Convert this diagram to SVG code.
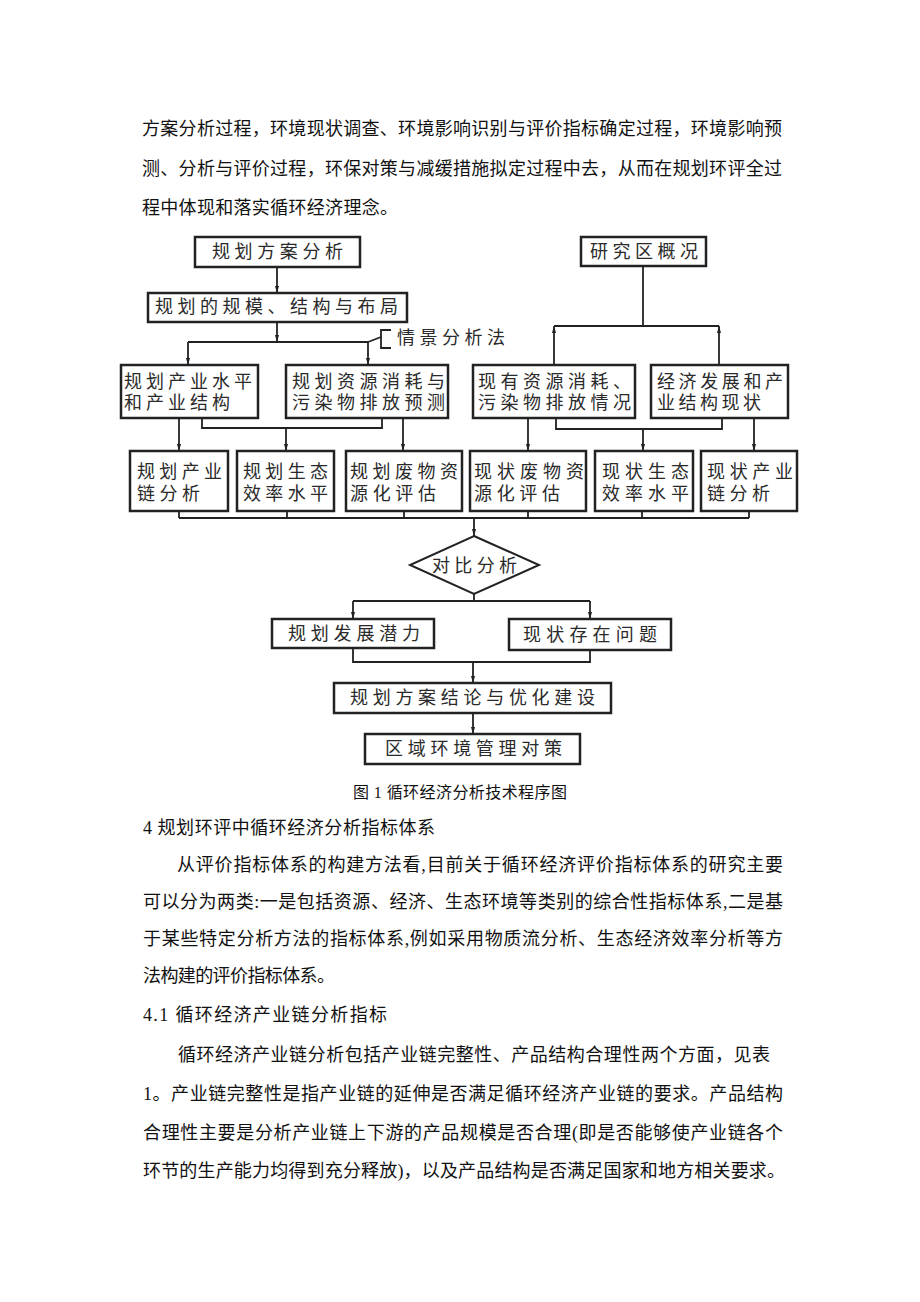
<svg xmlns="http://www.w3.org/2000/svg" width="920" height="1302" viewBox="0 0 920 1302">
<style>
.box{fill:#fff;stroke:#222;stroke-width:2.5}
.c{fill:none;stroke:#222;stroke-width:1.8}
.t{font-family:"Liberation Serif","Noto Sans CJK SC",sans-serif;font-size:18px;fill:#2a2a2a;dominant-baseline:central}
.b{font-family:"Liberation Serif","Noto Sans CJK SC",serif;font-size:18px;fill:#111;dominant-baseline:central}
.s{font-size:16px}
</style>
<defs>
<marker id="ah" markerUnits="userSpaceOnUse" markerWidth="7" markerHeight="12" viewBox="0 0 12 7" refX="12" refY="3.5" orient="auto">
<path d="M0,0 L12,3.5 L0,7 z" fill="#222"/>
</marker>
</defs>
<rect width="920" height="1302" fill="#fff"/>

<g id="body-top">
<text class="b" x="142" y="129" textLength="640" lengthAdjust="spacing">方案分析过程，环境现状调查、环境影响识别与评价指标确定过程，环境影响预</text>
<text class="b" x="142" y="169" textLength="640" lengthAdjust="spacing">测、分析与评价过程，环保对策与减缓措施拟定过程中去，从而在规划环评全过</text>
<text class="b" x="142" y="208" textLength="256" lengthAdjust="spacing">程中体现和落实循环经济理念。</text>
</g>

<g id="connectors">
<line class="c" x1="277" y1="267" x2="277" y2="293" marker-end="url(#ah)"/>
<line class="c" x1="277" y1="322" x2="277" y2="342" marker-end="url(#ah)"/>
<line class="c" x1="188" y1="342" x2="368" y2="342"/>
<line class="c" x1="188" y1="342" x2="188" y2="365" marker-end="url(#ah)"/>
<line class="c" x1="368" y1="342" x2="368" y2="365" marker-end="url(#ah)"/>
<polyline class="c" points="368,342 381,337"/>
<polyline class="c" points="391,330 381,330 381,348 391,348"/>
<line class="c" x1="643" y1="266" x2="643" y2="326"/>
<line class="c" x1="554" y1="326" x2="719" y2="326"/>
<line class="c" x1="554" y1="365" x2="554" y2="326" marker-end="url(#ah)"/>
<line class="c" x1="719" y1="365" x2="719" y2="326" marker-end="url(#ah)"/>
<line class="c" x1="179" y1="418" x2="179" y2="451" marker-end="url(#ah)"/>
<polyline class="c" points="202,418 202,428 382,428 382,418"/>
<line class="c" x1="286" y1="428" x2="286" y2="451" marker-end="url(#ah)"/>
<line class="c" x1="403" y1="418" x2="403" y2="451" marker-end="url(#ah)"/>
<line class="c" x1="528" y1="418" x2="528" y2="451" marker-end="url(#ah)"/>
<polyline class="c" points="556,418 556,429 722,429 722,418"/>
<line class="c" x1="643" y1="429" x2="643" y2="451" marker-end="url(#ah)"/>
<line class="c" x1="754" y1="418" x2="754" y2="451" marker-end="url(#ah)"/>
<line class="c" x1="179" y1="511" x2="179" y2="518"/>
<line class="c" x1="287" y1="511" x2="287" y2="518"/>
<line class="c" x1="404" y1="511" x2="404" y2="518"/>
<line class="c" x1="528" y1="511" x2="528" y2="518"/>
<line class="c" x1="642" y1="511" x2="642" y2="518"/>
<line class="c" x1="749" y1="511" x2="749" y2="518"/>
<line class="c" x1="179" y1="518" x2="749" y2="518"/>
<line class="c" x1="474" y1="518" x2="474" y2="536" marker-end="url(#ah)"/>
<line class="c" x1="474" y1="594" x2="474" y2="601"/>
<line class="c" x1="353" y1="601" x2="590" y2="601"/>
<line class="c" x1="353" y1="601" x2="353" y2="619" marker-end="url(#ah)"/>
<line class="c" x1="590" y1="601" x2="590" y2="619" marker-end="url(#ah)"/>
<polyline class="c" points="353,648 353,662 590,662 590,650"/>
<line class="c" x1="473" y1="662" x2="473" y2="683" marker-end="url(#ah)"/>
<line class="c" x1="473" y1="713" x2="473" y2="734" marker-end="url(#ah)"/>
</g>

<g id="n-fangan"><rect class="box" x="195" y="237" width="165" height="30"/><text class="t" x="212" y="252" textLength="131" lengthAdjust="spacing">规划方案分析</text></g>
<g id="n-guimo"><rect class="box" x="148" y="293" width="259" height="29"/><text class="t" x="155" y="307" textLength="243" lengthAdjust="spacing">规划的规模、结构与布局</text></g>
<g id="n-qingjing"><text class="t" x="397" y="338" textLength="108" lengthAdjust="spacing">情景分析法</text></g>
<g id="n-yanjiu"><rect class="box" x="581" y="237" width="125" height="29"/><text class="t" x="590" y="252" textLength="108" lengthAdjust="spacing">研究区概况</text></g>

<g id="n-chanye"><rect class="box" x="121" y="365" width="137" height="53"/>
<text class="t" x="124" y="382" textLength="128" lengthAdjust="spacing">规划产业水平</text>
<text class="t" x="124" y="403" textLength="106" lengthAdjust="spacing">和产业结构</text></g>
<g id="n-ziyuan"><rect class="box" x="286" y="365" width="162" height="53"/>
<text class="t" x="292" y="382" textLength="153" lengthAdjust="spacing">规划资源消耗与</text>
<text class="t" x="292" y="403" textLength="153" lengthAdjust="spacing">污染物排放预测</text></g>
<g id="n-xianyou"><rect class="box" x="473" y="365" width="162" height="53"/>
<text class="t" x="478" y="382" textLength="153" lengthAdjust="spacing">现有资源消耗、</text>
<text class="t" x="478" y="403" textLength="153" lengthAdjust="spacing">污染物排放情况</text></g>
<g id="n-jingji"><rect class="box" x="651" y="365" width="137" height="53"/>
<text class="t" x="657" y="382" textLength="126" lengthAdjust="spacing">经济发展和产</text>
<text class="t" x="657" y="403" textLength="104" lengthAdjust="spacing">业结构现状</text></g>

<g id="n-gh-chanyelian"><rect class="box" x="130" y="451" width="98" height="60"/>
<text class="t" x="137" y="472" textLength="85" lengthAdjust="spacing">规划产业</text>
<text class="t" x="137" y="494" textLength="63" lengthAdjust="spacing">链分析</text></g>
<g id="n-gh-shengtai"><rect class="box" x="237" y="451" width="97" height="60"/>
<text class="t" x="243" y="472" textLength="85" lengthAdjust="spacing">规划生态</text>
<text class="t" x="243" y="494" textLength="85" lengthAdjust="spacing">效率水平</text></g>
<g id="n-gh-feiwu"><rect class="box" x="346" y="451" width="116" height="60"/>
<text class="t" x="350" y="472" textLength="108" lengthAdjust="spacing">规划废物资</text>
<text class="t" x="350" y="494" textLength="86" lengthAdjust="spacing">源化评估</text></g>
<g id="n-xz-feiwu"><rect class="box" x="470" y="451" width="116" height="60"/>
<text class="t" x="474" y="472" textLength="110" lengthAdjust="spacing">现状废物资</text>
<text class="t" x="474" y="494" textLength="86" lengthAdjust="spacing">源化评估</text></g>
<g id="n-xz-shengtai"><rect class="box" x="595" y="451" width="98" height="60"/>
<text class="t" x="602" y="472" textLength="87" lengthAdjust="spacing">现状生态</text>
<text class="t" x="602" y="494" textLength="87" lengthAdjust="spacing">效率水平</text></g>
<g id="n-xz-chanyelian"><rect class="box" x="701" y="451" width="96" height="60"/>
<text class="t" x="707" y="472" textLength="86" lengthAdjust="spacing">现状产业</text>
<text class="t" x="707" y="494" textLength="63" lengthAdjust="spacing">链分析</text></g>

<g id="n-duibi"><polygon class="box" points="474,536 539,565 474,594 410,565" style="stroke-width:2"/>
<text class="t" x="432" y="566" textLength="85" lengthAdjust="spacing">对比分析</text></g>
<g id="n-qianli"><rect class="box" x="272" y="619" width="162" height="29"/><text class="t" x="288" y="634" textLength="132" lengthAdjust="spacing">规划发展潜力</text></g>
<g id="n-wenti"><rect class="box" x="509" y="619" width="162" height="31"/><text class="t" x="523" y="635" textLength="134" lengthAdjust="spacing">现状存在问题</text></g>
<g id="n-jielun"><rect class="box" x="334" y="683" width="277" height="30"/><text class="t" x="350" y="698" textLength="245" lengthAdjust="spacing">规划方案结论与优化建设</text></g>
<g id="n-duice"><rect class="box" x="365" y="734" width="215" height="30"/><text class="t" x="385" y="749" textLength="177" lengthAdjust="spacing">区域环境管理对策</text></g>

<g id="body-bottom">
<text class="b s" x="353" y="792" textLength="214" lengthAdjust="spacing">图 1  循环经济分析技术程序图</text>
<text class="b" x="143" y="828" textLength="292" lengthAdjust="spacing">4  规划环评中循环经济分析指标体系</text>
<text class="b" x="177" y="865" textLength="606" lengthAdjust="spacing">从评价指标体系的构建方法看,目前关于循环经济评价指标体系的研究主要</text>
<text class="b" x="143" y="902" textLength="640" lengthAdjust="spacing">可以分为两类:一是包括资源、经济、生态环境等类别的综合性指标体系,二是基</text>
<text class="b" x="143" y="939" textLength="640" lengthAdjust="spacing">于某些特定分析方法的指标体系,例如采用物质流分析、生态经济效率分析等方</text>
<text class="b" x="143" y="976" textLength="192" lengthAdjust="spacing">法构建的评价指标体系。</text>
<text class="b" x="143" y="1015" textLength="244" lengthAdjust="spacing">4.1  循环经济产业链分析指标</text>
<text class="b" x="178" y="1055" textLength="592" lengthAdjust="spacing">循环经济产业链分析包括产业链完整性、产品结构合理性两个方面，见表</text>
<text class="b" x="143" y="1094" textLength="640" lengthAdjust="spacing">1。产业链完整性是指产业链的延伸是否满足循环经济产业链的要求。产品结构</text>
<text class="b" x="143" y="1133" textLength="640" lengthAdjust="spacing">合理性主要是分析产业链上下游的产品规模是否合理(即是否能够使产业链各个</text>
<text class="b" x="143" y="1171" textLength="642" lengthAdjust="spacing">环节的生产能力均得到充分释放)，以及产品结构是否满足国家和地方相关要求。</text>
</g>
</svg>
